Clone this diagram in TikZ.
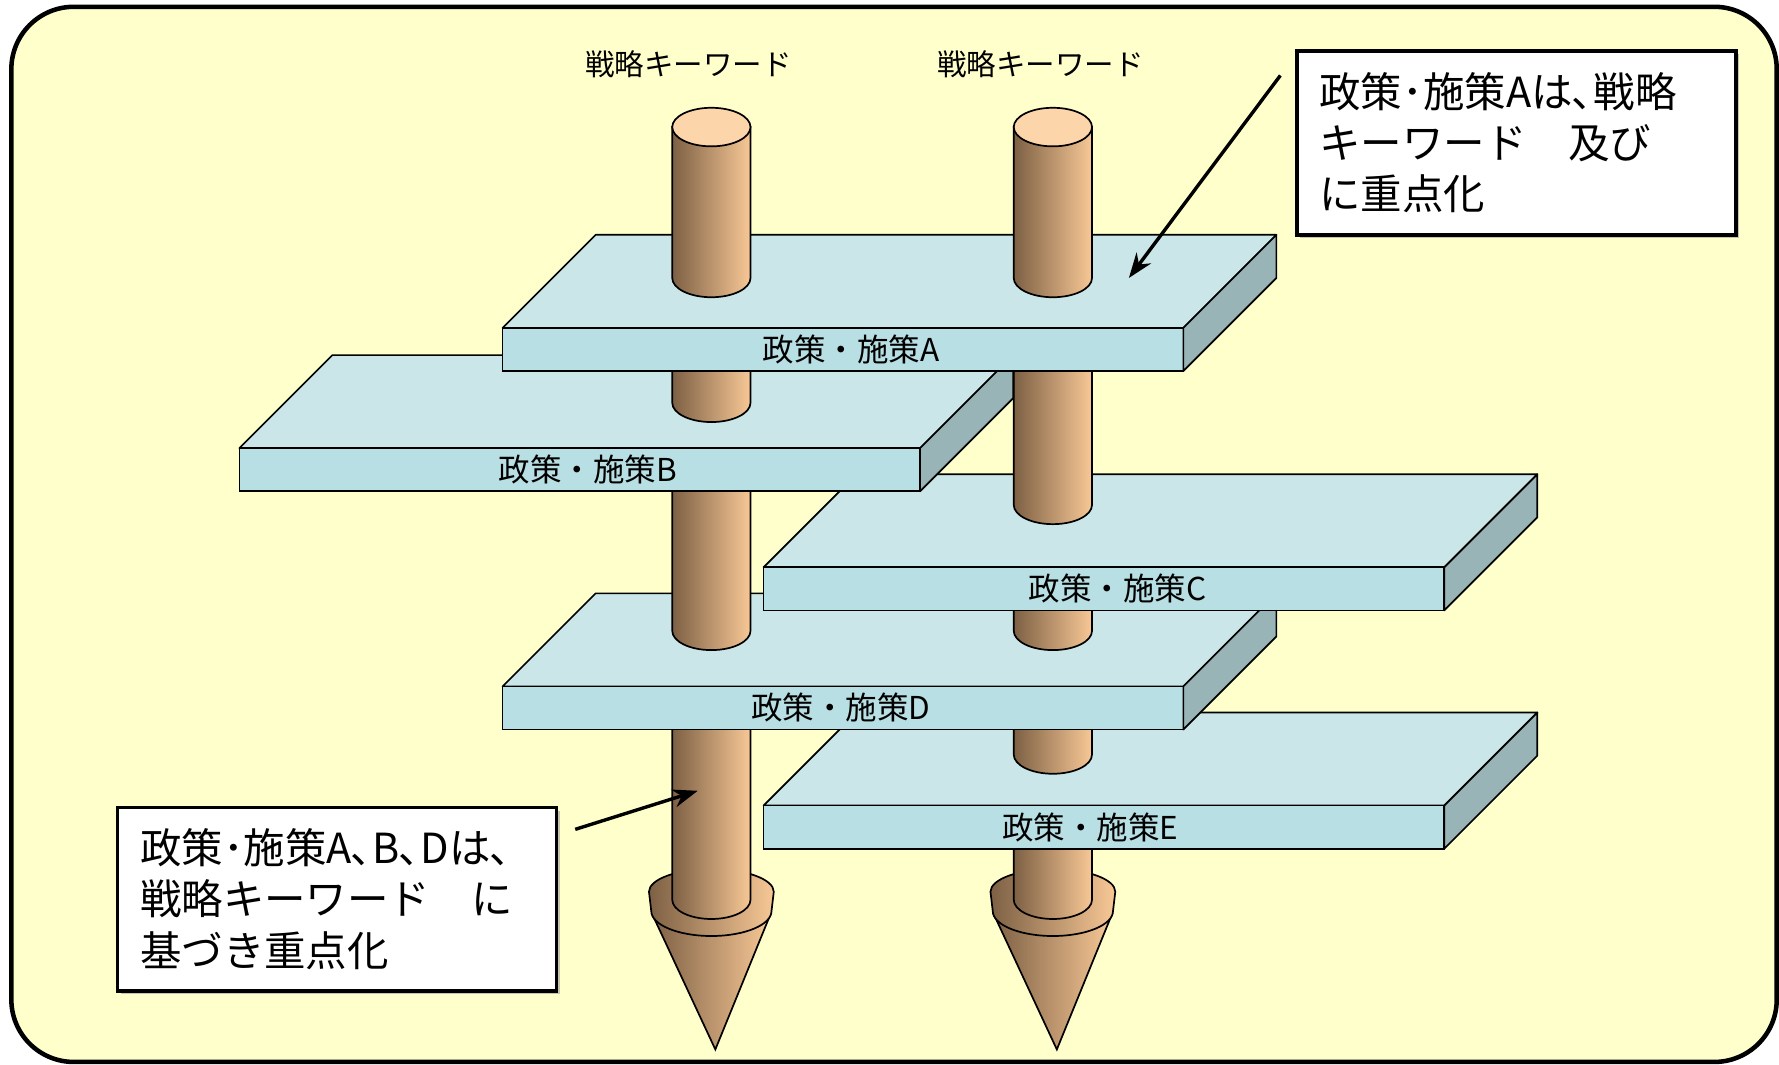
\documentclass[tikz,border=0pt]{standalone}
\usepackage{fontspec}
\newfontfamily\jpfont{Noto Sans CJK JP}
\usetikzlibrary{arrows.meta,shadows}
\definecolor{paleyellow}{HTML}{FFFFCC}
\definecolor{platetopblue}{HTML}{CAE6E8}
\definecolor{platefrontblue}{HTML}{B8DFE3}
\definecolor{platesidegray}{HTML}{99B4B6}
\definecolor{stakedark}{HTML}{7D6044}
\definecolor{stakelight}{HTML}{F8C896}
\definecolor{stakecapfill}{HTML}{FDD5AA}

\newcommand{\policyplate}[2]{%
  \filldraw[platetop] (#1,#2) -- ++(82,82) -- ++(600,0) -- ++(-82,-82) -- cycle;
  \filldraw[platefront] (#1,#2) rectangle ++(600,-38);
  \filldraw[plateside] (#1+600,#2) -- ++(82,82) -- ++(0,-38) -- ++(-82,-82) -- cycle;
}
\newcommand{\stakepiece}[3]{%
  \shadedraw[stake] (#1-34.5,#2) -- (#1-34.5,#3) arc[start angle=180,end angle=360,x radius=34.5,y radius=17] -- (#1+34.5,#2) -- cycle;
}
\newcommand{\staketip}[1]{%
  \shadedraw[stake] (#1-52,-806) -- (#1+3.5,-925) -- (#1+52,-806) -- cycle;
  \shadedraw[stake] (#1-55,-786) -- (#1-53,-803) arc[start angle=180,end angle=360,x radius=53,y radius=22] -- (#1+55,-786) arc[start angle=0,end angle=180,x radius=55,y radius=20] -- cycle;
}

\begin{document}
\begin{tikzpicture}[x=0.1mm, y=0.1mm,
    frame/.style={draw=black, line width=0.4mm, fill=paleyellow, rounded corners=5.5mm},
    platetop/.style={fill=platetopblue, draw=black, line width=0.15mm, line join=round},
    platefront/.style={fill=platefrontblue, draw=black, line width=0.15mm},
    plateside/.style={fill=platesidegray, draw=black, line width=0.15mm, line join=round},
    stake/.style={left color=stakedark, right color=stakelight, draw=black, line width=0.15mm},
    stakecap/.style={fill=stakecapfill, draw=black, line width=0.15mm},
    keyword/.style={font=\jpfont\fontsize{7.4}{9}\selectfont},
    platelabel/.style={font=\jpfont\fontsize{7.9}{9}\selectfont},
    note/.style={draw=black, line width=0.3mm, fill=white, align=left, text width=34.7mm, minimum height=16.2mm, inner xsep=2mm,
      font=\jpfont\fontsize{10.4}{12.8}\selectfont, drop shadow={shadow xshift=0.3mm, shadow yshift=-0.3mm, fill=black!45}},
    pointer/.style={line width=0.3mm, -{Stealth[length=2.2mm,width=1.6mm]}}]
  \fill[white] (0,0) rectangle (1568,-938);
  \useasboundingbox (0,0) rectangle (1568,-938);
  \draw[frame] (10,-6) rectangle (1566,-936);

  \node[keyword] (keyL) at (607,-57) {戦略キーワード};
  \node[keyword] (keyR) at (917,-57) {戦略キーワード};

  \staketip{627}
  \staketip{928}
  \stakepiece{627}{-640}{-793}
  \stakepiece{928}{-745}{-793}
  \policyplate{673}{-710}
  \stakepiece{928}{-640}{-665}
  \policyplate{443}{-605}
  \stakepiece{627}{-429}{-556}
  \stakepiece{928}{-534}{-556}
  \policyplate{673}{-500}
  \stakepiece{928}{-324}{-445}
  \policyplate{211}{-395}
  \stakepiece{627}{-324}{-355}
  \policyplate{443}{-289}
  \stakepiece{627}{-112}{-245}
  \filldraw[stakecap] (627,-112) ellipse[x radius=34.5,y radius=17];
  \stakepiece{928}{-112}{-245}
  \filldraw[stakecap] (928,-112) ellipse[x radius=34.5,y radius=17];

  \node[platelabel] (planA) at (750,-308) {政策・施策A};
  \node[platelabel] (planB) at (518,-414) {政策・施策B};
  \node[platelabel] (planC) at (985,-519) {政策・施策C};
  \node[platelabel] (planD) at (741,-624) {政策・施策D};
  \node[platelabel] (planE) at (961,-729) {政策・施策E};

  \node[note] (noteA) at (1336.5,-126) {政策･施策Aは､戦略\\キーワード　及び\\に重点化};
  \node[note] (noteBD) at (297,-792.5) {政策･施策A､B､Dは､\\戦略キーワード　に\\基づき重点化};

  \coordinate (hitA) at (995,-245);
  \coordinate (hitBD) at (615,-697);
  \draw[pointer] ([shift={(-13,-23)}]noteA.north west) -- (hitA);
  \draw[pointer] ([shift={(15,-21)}]noteBD.north east) -- (hitBD);
\end{tikzpicture}
\end{document}
